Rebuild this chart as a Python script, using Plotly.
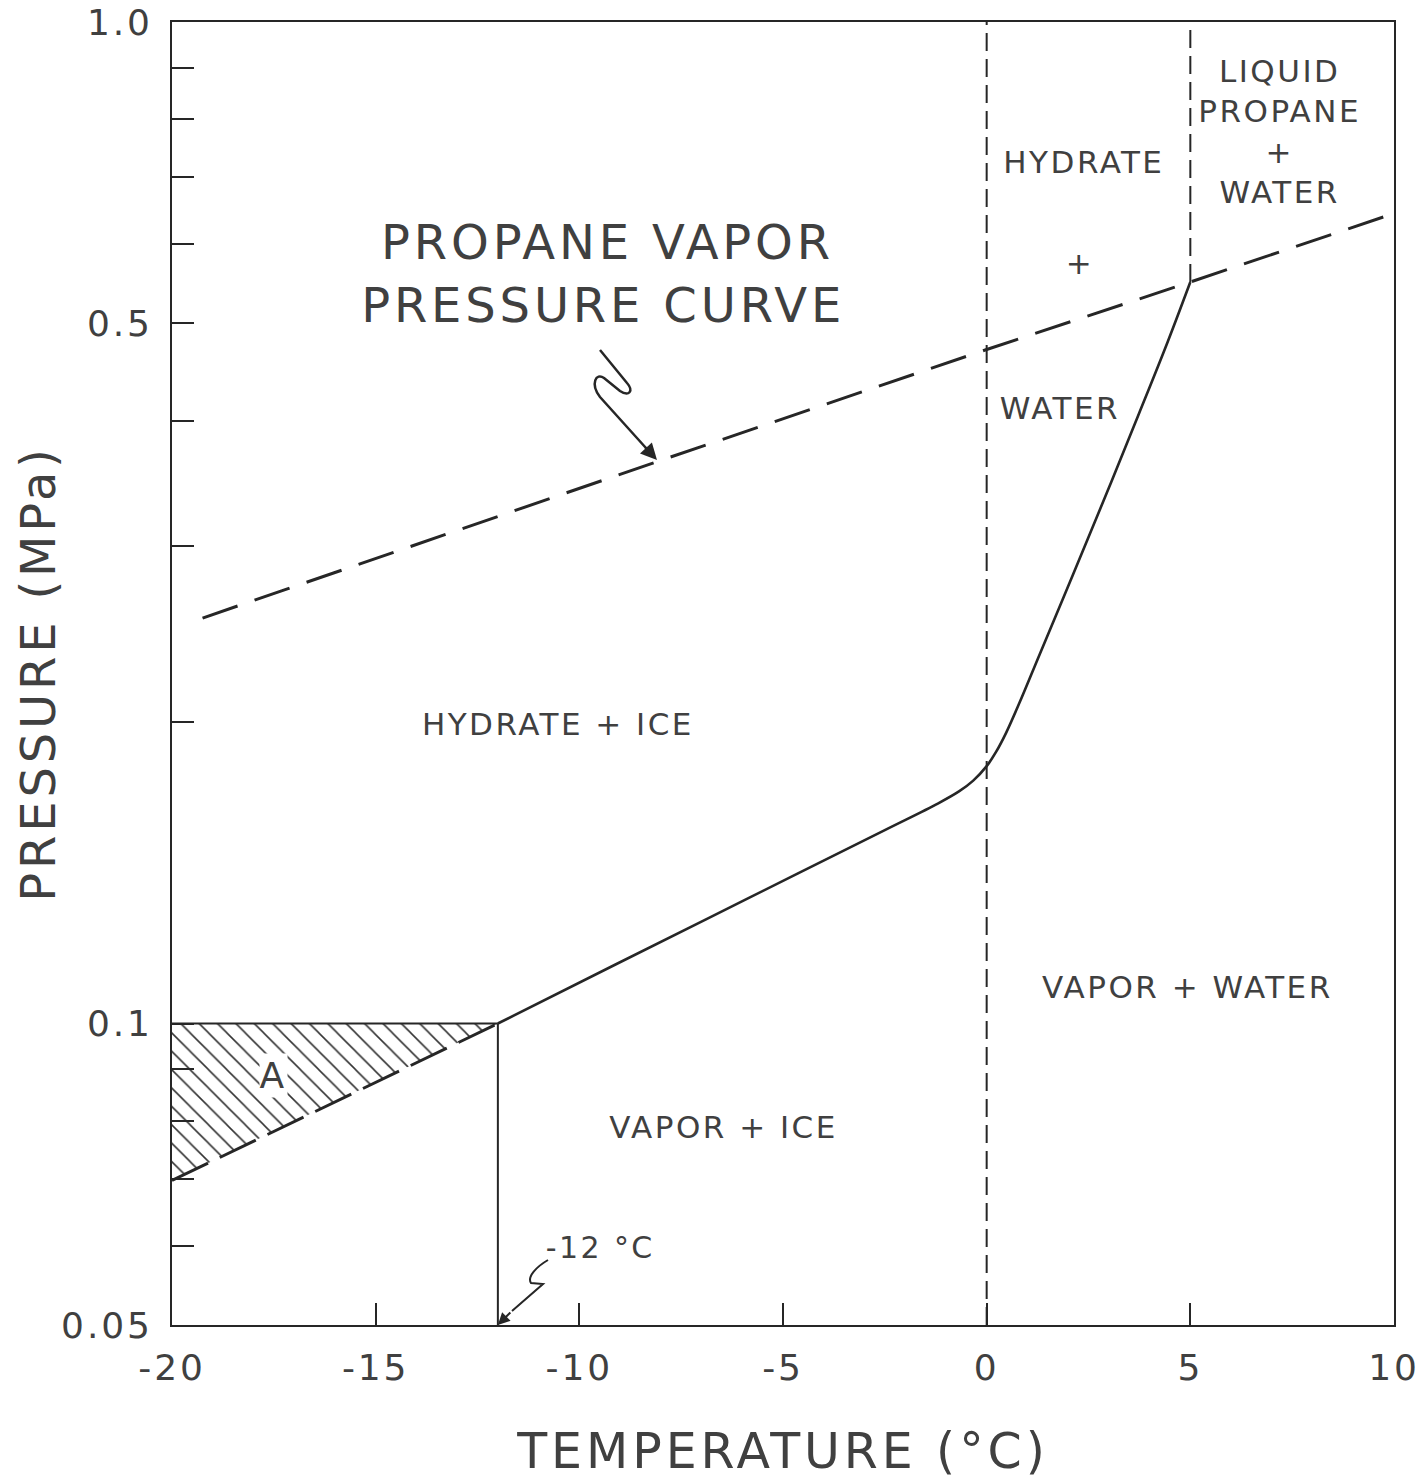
import math
import plotly.graph_objects as go

# ---------------- data ----------------
# Hydrate formation curve (solid): temperature in degC, pressure in MPa
hydrate_T = [-12.0, -9.1, -5.8, -2.5, -1.2, -0.68, -0.33, 0.0, 0.23, 0.48, 0.8, 1.29,
             2.1, 2.95, 3.75, 4.45, 5.0]
hydrate_p = [0.100, 0.1146, 0.1337, 0.156, 0.1658, 0.1705, 0.1748, 0.1807, 0.1867, 0.1952,
             0.2088, 0.2331, 0.2795, 0.3388, 0.4074, 0.480, 0.550]

# Propane vapor pressure curve (long dashes)
propane_T = [-19.25, -8.0, 0.0, 5.0, 10.0]
propane_p = [0.254, 0.365, 0.471, 0.550, 0.644]

# Metastable extension below -12 degC (dashed) bounding region A
ice_ext_T = [-20.0, -12.0]
ice_ext_p = [0.0697, 0.100]

# Region A (hatched)
regionA_T = [-20.0, -12.0, -20.0]
regionA_p = [0.100, 0.100, 0.0697]

# Upper boundary of region A (0.1 MPa)
topA_T = [-20.0, -12.0]
topA_p = [0.100, 0.100]

# Vertical line at -12 degC
ice_point_T = [-12.0, -12.0]
ice_point_p = [0.05, 0.100]

# Ice point (0 degC) dashed vertical
zero_T = [0.0, 0.0]
zero_p = [0.05, 1.0]

# Quadruple point dashed vertical
quad_T = [5.0, 5.0]
quad_p = [0.550, 1.0]

x_ticks = [-20, -15, -10, -5, 0, 5, 10]
x_tick_labels = ["-20", "-15", "-10", "-5", "0", "5", "10"]
y_ticks = [0.05, 0.06, 0.07, 0.08, 0.09, 0.1, 0.2, 0.3, 0.4, 0.5, 0.6, 0.7, 0.8, 0.9, 1.0]
y_tick_labels = ["0.05", "", "", "", "", "0.1", "", "", "", "0.5", "", "", "", "", "1.0"]

# region labels: text, temperature, pressure, font size
labels = [
    ("PROPANE VAPOR", -9.32, 0.603, 48),
    ("PRESSURE CURVE", -9.42, 0.522, 48),
    ("HYDRATE", 2.39, 0.725, 31),
    ("LIQUID<br>PROPANE<br>+<br>WATER", 7.20, 0.778, 31),
    ("+", 2.29, 0.574, 31),
    ("WATER", 1.80, 0.412, 31),
    ("HYDRATE + ICE", -10.52, 0.199, 31),
    ("VAPOR + WATER", 4.94, 0.1088, 31),
    ("VAPOR + ICE", -6.45, 0.0788, 31),
    ("-12 °C", -9.5, 0.0597, 30),
]

# ---------------- styling ----------------
LINE = "#262626"
TEXT = "#404040"
FONT = "DejaVu Sans"

OFF = 0                      # page body margin (removed in the post script)
FW, FH = 1427, 1480          # figure size
ML, MR, MT, MB = 172, 33, 22, 155
PW, PH = FW - ML - MR, FH - MT - MB


def paper(px, py):
    """convert a pixel position on the page to paper coordinates"""
    fx, fy = px - OFF, py - OFF
    return (fx - ML) / PW, (FH - MB - fy) / PH


def path_from(cmds):
    out = []
    for cmd in cmds:
        letter, pts = cmd[0], cmd[1:]
        coords = " ".join("%.5f,%.5f" % paper(*p) for p in pts)
        out.append(letter + coords)
    return " ".join(out)


fig = go.Figure()

# hatched region A
fig.add_trace(go.Scatter(
    x=regionA_T, y=regionA_p, mode="lines", fill="toself",
    line=dict(width=0, color="rgba(0,0,0,0)"),
    fillcolor="white",
    fillpattern=dict(shape="\\", size=13, solidity=0.12, fgcolor="#333333",
                     bgcolor="white", fillmode="replace"),
    hoverinfo="skip"))

# upper boundary of A
fig.add_trace(go.Scatter(x=topA_T, y=topA_p, mode="lines",
                         line=dict(color=LINE, width=2)))
# dashed extension
fig.add_trace(go.Scatter(x=ice_ext_T, y=ice_ext_p, mode="lines",
                         line=dict(color=LINE, width=3, dash="40px,13px")))
# -12 vertical
fig.add_trace(go.Scatter(x=ice_point_T, y=ice_point_p, mode="lines",
                         line=dict(color=LINE, width=2)))
# 0 degC dashed vertical
fig.add_trace(go.Scatter(x=zero_T, y=zero_p, mode="lines",
                         line=dict(color=LINE, width=2, dash="18px,8px")))
# quadruple point vertical
fig.add_trace(go.Scatter(x=quad_T, y=quad_p, mode="lines",
                         line=dict(color=LINE, width=2, dash="18px,8px")))
# propane vapor pressure
fig.add_trace(go.Scatter(x=propane_T, y=propane_p, mode="lines",
                         line=dict(color=LINE, width=3, dash="37px,18px")))
# hydrate curve
fig.add_trace(go.Scatter(x=hydrate_T, y=hydrate_p, mode="lines",
                         line=dict(color=LINE, width=2.6, shape="spline", smoothing=1.0)))

annotations = []
for text, t, p, size in labels:
    annotations.append(dict(x=t, y=math.log10(p), xref="x", yref="y", text=text,
                            showarrow=False, align="center",
                            font=dict(family=FONT, size=size, color=TEXT),
                            xanchor="center", yanchor="middle"))
# label A with white background breaking the hatching
annotations.append(dict(x=-17.52, y=math.log10(0.0888), xref="x", yref="y", text="A",
                        showarrow=False, bgcolor="white", borderpad=1,
                        font=dict(family=FONT, size=36, color=TEXT)))

# arrowheads for the squiggle pointers
tx, ty = paper(657, 460)
annotations.append(dict(x=tx, y=ty, xref="paper", yref="paper", text="", showarrow=True,
                        ax=-13, ay=-14, arrowhead=2, arrowsize=1.3, arrowwidth=2.5,
                        arrowcolor=LINE))
annotations.append(dict(x=-12, y=math.log10(0.05), xref="x", yref="y", text="", showarrow=True,
                        ax=14, ay=-14, arrowhead=2, arrowsize=1.2, arrowwidth=2,
                        arrowcolor=LINE))

shapes = [
    dict(type="path", xref="paper", yref="paper",
         path=path_from([("M", (600, 350)), ("L", (627, 383)),
                         ("C", (634, 391), (629, 397), (620, 391)),
                         ("L", (604, 378)),
                         ("C", (596, 372), (590, 384), (600, 397)),
                         ("L", (646, 448))]),
         line=dict(color=LINE, width=2.5)),
    dict(type="path", xref="paper", yref="paper",
         path=path_from([("M", (548, 1260)),
                         ("C", (536, 1267), (527, 1277), (531, 1283)),
                         ("L", (543, 1284)),
                         ("L", (512, 1311))]),
         line=dict(color=LINE, width=2)),
]

fig.update_layout(
    template="none",
    width=FW, height=FH,
    margin=dict(l=ML, r=MR, t=MT, b=MB, pad=0),
    paper_bgcolor="white", plot_bgcolor="white",
    showlegend=False,
    font=dict(family=FONT, color=TEXT),
    annotations=annotations,
    shapes=shapes,
)

fig.update_xaxes(
    range=[-20, 10], tickmode="array", tickvals=x_ticks, ticktext=x_tick_labels,
    ticks="inside", ticklen=22, tickwidth=2, tickcolor=LINE,
    showline=True, linewidth=2, linecolor=LINE, mirror=True,
    showgrid=False, zeroline=False, automargin=False, ticklabeloverflow="allow",
    tickfont=dict(family=FONT, size=36, color=TEXT), ticklabelstandoff=10,
    title=dict(text="TEMPERATURE (°C)", font=dict(family=FONT, size=49, color=TEXT)),
)
fig.update_yaxes(
    type="log", range=[math.log10(0.05), 0.0], tickmode="array",
    tickvals=y_ticks, ticktext=y_tick_labels,
    ticks="inside", ticklen=22, tickwidth=2, tickcolor=LINE,
    showline=True, linewidth=2, linecolor=LINE, mirror=True,
    showgrid=False, zeroline=False, automargin=False, ticklabeloverflow="allow",
    tickfont=dict(family=FONT, size=36, color=TEXT), ticklabelstandoff=10,
    title=dict(text="PRESSURE (MPa)", font=dict(family=FONT, size=48, color=TEXT)),
)

# remove the page margin and widen the lettering like the stencilled original
post = """
document.body.style.margin = '0';
var sel = '.annotation-text, .xtick text, .ytick text, .xtitle, .ytitle';
document.querySelectorAll(sel).forEach(function (t) { t.style.letterSpacing = '0.08em'; });
var yt = document.querySelector('.g-ytitle');
if (yt) { yt.setAttribute('transform', 'translate(-10,0)'); }
"""

fig.write_html("out.html", post_script=post, config={"displayModeBar": False})
